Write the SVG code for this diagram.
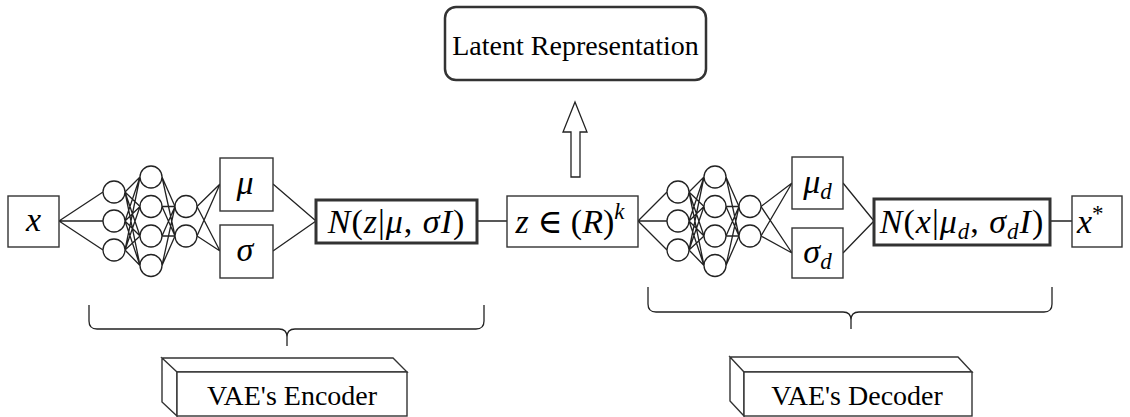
<svg xmlns="http://www.w3.org/2000/svg" width="1130" height="417" viewBox="0 0 1130 417">
<style>
.bx{fill:#fff;stroke:#333;stroke-width:1.4}
.thick{fill:#fff;stroke:#333;stroke-width:3}
.neu{fill:#fff;stroke:#222;stroke-width:1.3}
.ln{fill:none;stroke:#222;stroke-width:1.3}
.t{font-family:'Liberation Serif','DejaVu Serif',serif;fill:#000}
.m{font-family:'Liberation Serif','DejaVu Serif',serif;font-size:34px;fill:#000}
.i{font-style:italic}
.s{font-size:23px}
.ls{letter-spacing:1px}
</style>
<rect width="1130" height="417" fill="#fff"/>
<g id="connectors">
<path class="ln" d="M59,221L103,192M59,221L103,221M59,221L103,250"/>
<path class="ln" d="M125,192L140,177M125,192L140,206.5M125,192L140,236M125,192L140,265.5M125,221L140,177M125,221L140,206.5M125,221L140,236M125,221L140,265.5M125,250L140,177M125,250L140,206.5M125,250L140,236M125,250L140,265.5"/>
<path class="ln" d="M162,177L175,206.5M162,177L175,236M162,206.5L175,206.5M162,206.5L175,236M162,236L175,206.5M162,236L175,236M162,265.5L175,206.5M162,265.5L175,236"/>
<path class="ln" d="M197,206.5L220,184M197,206.5L220,251M197,236L220,184M197,236L220,251"/>
<path class="ln" d="M273,184L316,221M273,251L316,221M477,221L507,221"/>
<path class="ln" d="M638,221L667,192M638,221L667,221M638,221L667,250"/>
<path class="ln" d="M689,192L704,177M689,192L704,206.5M689,192L704,236M689,192L704,265.5M689,221L704,177M689,221L704,206.5M689,221L704,236M689,221L704,265.5M689,250L704,177M689,250L704,206.5M689,250L704,236M689,250L704,265.5"/>
<path class="ln" d="M726,177L739,206.5M726,177L739,236M726,206.5L739,206.5M726,206.5L739,236M726,236L739,206.5M726,236L739,236M726,265.5L739,206.5M726,265.5L739,236"/>
<path class="ln" d="M761,206.5L792,183M761,206.5L792,253M761,236L792,183M761,236L792,253"/>
<path class="ln" d="M843,183L874,221M843,253L874,221M1050,221L1072,221"/>
<polygon id="up-arrow" points="575,102 587,132 580,132 580,177 571,177 571,132 563,132" fill="#fff" stroke="#222" stroke-width="1.3"/>
<path id="enc-brace" class="ln" d="M89,305V321Q89,329 97,329H279Q287,329 287,337V346M287,337Q287,329 295,329H476Q484,329 484,321V305"/>
<path id="dec-brace" class="ln" d="M648,287V304Q648,312 656,312H843Q851,312 851,320V329M851,320Q851,312 859,312H1044Q1052,312 1052,304V287"/>
</g>
<g id="latent">
<rect x="445" y="7" width="261" height="73" rx="11" fill="#fff" stroke="#333" stroke-width="2.5"/>
<text class="t" x="575.5" y="55" font-size="28" text-anchor="middle">Latent Representation</text>
</g>
<g id="x-in">
<rect class="bx" x="8" y="196" width="51" height="51"/>
<text class="m i" x="33.5" y="231" text-anchor="middle">x</text>
</g>
<g id="enc-net">
<circle class="neu" cx="114" cy="192" r="11"/><circle class="neu" cx="114" cy="221" r="11"/><circle class="neu" cx="114" cy="250" r="11"/>
<circle class="neu" cx="151" cy="177" r="11"/><circle class="neu" cx="151" cy="206.5" r="11"/><circle class="neu" cx="151" cy="236" r="11"/><circle class="neu" cx="151" cy="265.5" r="11"/>
<circle class="neu" cx="186" cy="206.5" r="11"/><circle class="neu" cx="186" cy="236" r="11"/>
</g>
<g id="mu">
<rect class="bx" x="220" y="158" width="53" height="53"/>
<text class="m i" x="245" y="194" text-anchor="middle">μ</text>
</g>
<g id="sigma">
<rect class="bx" x="220" y="225" width="53" height="53"/>
<text class="m i" x="245" y="261" text-anchor="middle">σ</text>
</g>
<g id="enc-dist">
<rect class="thick" x="316" y="200" width="161" height="43"/>
<text class="m ls" x="396.5" y="233" text-anchor="middle"><tspan class="i">N</tspan>(<tspan class="i">z</tspan>|<tspan class="i">μ</tspan>, <tspan class="i">σI</tspan>)</text>
</g>
<g id="z">
<rect class="bx" x="507" y="196" width="131" height="51"/>
<text class="m" x="570" y="233" text-anchor="middle"><tspan class="i">z</tspan> ∈ (<tspan class="i">R</tspan>)<tspan class="i s" dy="-14">k</tspan></text>
</g>
<g id="dec-net">
<circle class="neu" cx="678" cy="192" r="11"/><circle class="neu" cx="678" cy="221" r="11"/><circle class="neu" cx="678" cy="250" r="11"/>
<circle class="neu" cx="715" cy="177" r="11"/><circle class="neu" cx="715" cy="206.5" r="11"/><circle class="neu" cx="715" cy="236" r="11"/><circle class="neu" cx="715" cy="265.5" r="11"/>
<circle class="neu" cx="750" cy="206.5" r="11"/><circle class="neu" cx="750" cy="236" r="11"/>
</g>
<g id="mu-d">
<rect class="bx" x="792" y="157" width="51" height="52"/>
<text class="m i" x="817.5" y="193" text-anchor="middle">μ<tspan class="s" dy="6">d</tspan></text>
</g>
<g id="sigma-d">
<rect class="bx" x="792" y="228" width="51" height="50"/>
<text class="m i" x="817.5" y="263" text-anchor="middle">σ<tspan class="s" dy="6">d</tspan></text>
</g>
<g id="dec-dist">
<rect class="thick" x="874" y="199" width="176" height="46"/>
<text class="m ls" x="962" y="233" text-anchor="middle"><tspan class="i">N</tspan>(<tspan class="i">x</tspan>|<tspan class="i">μ</tspan><tspan class="i s" dy="6">d</tspan><tspan dy="-6">, </tspan><tspan class="i">σ</tspan><tspan class="i s" dy="6">d</tspan><tspan class="i" dy="-6">I</tspan>)</text>
</g>
<g id="x-out">
<rect class="bx" x="1072" y="196" width="50" height="51"/>
<text class="m" x="1077" y="233"><tspan class="i">x</tspan><tspan class="s" dy="-12">*</tspan></text>
</g>
<g id="encoder-label">
<path class="bx" d="M177,372L162,358H393L407,372ZM177,372L162,358V402L177,416Z"/>
<rect class="bx" x="177" y="372" width="230" height="44"/>
<text class="t" x="292" y="405" font-size="28" text-anchor="middle">VAE's Encoder</text>
</g>
<g id="decoder-label">
<path class="bx" d="M744,372L730,357H958L972,372ZM744,372L730,357V401L744,416Z"/>
<rect class="bx" x="744" y="372" width="228" height="44"/>
<text class="t" x="857" y="405" font-size="28" text-anchor="middle">VAE's Decoder</text>
</g>
</svg>
